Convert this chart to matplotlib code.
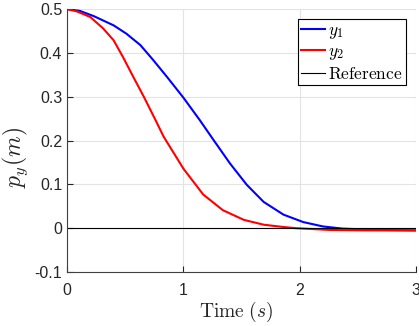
import matplotlib
matplotlib.use("Agg")
import matplotlib.pyplot as plt

plt.rcParams['mathtext.fontset'] = 'cm'
plt.rcParams['font.family'] = ['Liberation Sans', 'DejaVu Sans']

# values
t1 = [0, 0.11, 0.23, 0.4, 0.51, 0.63, 0.74, 0.86, 1.0, 1.14, 1.26, 1.4, 1.545, 1.69, 1.86, 2.03, 2.2, 2.37, 2.69, 3.0]
y1 = [0.5, 0.496, 0.484, 0.463, 0.444, 0.418, 0.384, 0.345, 0.298, 0.247, 0.201, 0.148, 0.099, 0.060, 0.031, 0.014, 0.004, -0.001, -0.004, -0.005]

t2 = [0, 0.083, 0.2, 0.31, 0.40, 0.48, 0.57, 0.66, 0.76, 0.83, 1.0, 1.17, 1.34, 1.52, 1.69, 1.85, 1.97, 2.26, 2.6, 3.0]
y2 = [0.5, 0.495, 0.482, 0.456, 0.429, 0.391, 0.345, 0.30, 0.247, 0.209, 0.136, 0.077, 0.041, 0.019, 0.008, 0.003, 0.0, -0.004, -0.005, -0.005]

tref = [0, 3]
yref = [0, 0]

fig = plt.figure(figsize=(4.19, 3.26), dpi=100)
ax = fig.add_axes([0.160, 0.1656, 0.833, 0.8064])

ax.plot(t1, y1, color='#0000ff', lw=1.5, label='$y_1$')
ax.plot(t2, y2, color='#ff0000', lw=1.5, label='$y_2$')
ax.plot(tref, yref, color='black', lw=0.8, label=r'$\mathrm{Reference}$')

ax.set_xlim(0, 3)
ax.set_ylim(-0.1, 0.5)
ax.set_xticks([0, 1, 2, 3])
ax.set_yticks([-0.1, 0, 0.1, 0.2, 0.3, 0.4, 0.5])
ax.set_yticklabels(['-0.1', '0', '0.1', '0.2', '0.3', '0.4', '0.5'])
ax.grid(True, color='#e3e3e3', lw=0.8)
ax.set_axisbelow(True)
for s in ['top', 'right']:
    ax.spines[s].set_visible(False)
for s in ['left', 'bottom']:
    ax.spines[s].set_color('#404040')
    ax.spines[s].set_linewidth(0.8)
ax.tick_params(direction='in', labelsize=11.5, colors='#262626', length=4, width=0.8)
ax.tick_params(axis='x', pad=8)

ax.set_xlabel(r'$\mathrm{Time}\ (s)$', fontsize=14, color='#262626', va='center')
ax.set_ylabel('$p_y(m)$', fontsize=17, color='#262626', va='center')
ax.xaxis.set_label_coords(0.486, -0.152)
ax.yaxis.set_label_coords(-0.149, 0.437)

leg = ax.legend(loc='upper right', bbox_to_anchor=(0.971, 0.962), borderaxespad=0,
                fontsize=12.5, fancybox=False, framealpha=1, edgecolor='black',
                handlelength=1.4, handletextpad=0.15, borderpad=0.2, labelspacing=0.2)
leg.get_frame().set_linewidth(0.8)

fig.savefig('out.png', dpi=100)
